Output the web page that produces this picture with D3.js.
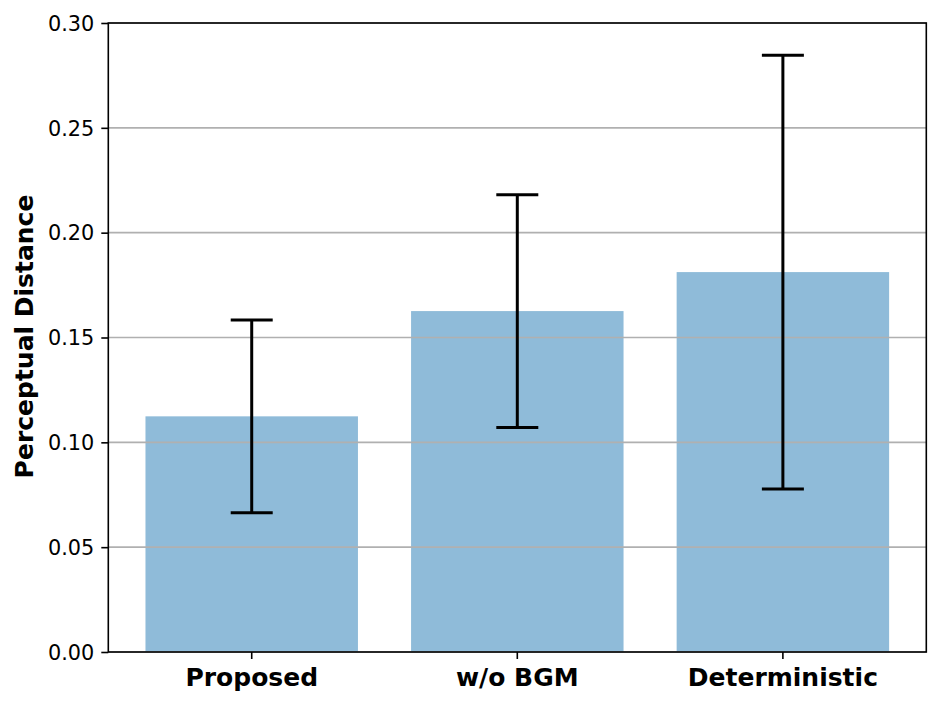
<!DOCTYPE html>
<html>
<head>
<meta charset="utf-8">
<script src="https://cdn.jsdelivr.net/npm/d3@7"></script>
<style>
  html, body { margin: 0; padding: 0; background: #ffffff; }
  svg { display: block; font-family: "DejaVu Sans", sans-serif; }
</style>
</head>
<body>
<svg id="chart" width="949" height="707"></svg>
<script>
const categories = ["Proposed", "w/o BGM", "Deterministic"];
const means = [0.1124, 0.1626, 0.1812];
const errors = [0.0460, 0.0555, 0.1034];
const yTicks = [0.00, 0.05, 0.10, 0.15, 0.20, 0.25, 0.30];
const yLabel = "Perceptual Distance";

const svg = d3.select("#chart");
const margin = { left: 108.3, right: 949 - 926.3, top: 23, bottom: 707 - 652 };
const W = 949, H = 707;
const x0 = margin.left, x1 = W - margin.right, y0 = H - margin.bottom, y1 = margin.top;

const x = d3.scaleBand().domain(categories).range([x0, x1]).paddingInner(0.2).paddingOuter(0.14);
const y = d3.scaleLinear().domain([0, 0.30]).range([y0, y1]);

// bars
svg.append("g").selectAll("rect").data(categories).join("rect")
  .attr("x", d => x(d))
  .attr("width", x.bandwidth())
  .attr("y", (d, i) => y(means[i]))
  .attr("height", (d, i) => y(0) - y(means[i]))
  .attr("fill", "#1f77b4")
  .attr("fill-opacity", 0.5);

// grid (above bars, like matplotlib)
svg.append("g").selectAll("line").data(yTicks).join("line")
  .attr("x1", x0).attr("x2", x1)
  .attr("y1", d => y(d)).attr("y2", d => y(d))
  .attr("stroke", "#b0b0b0").attr("stroke-width", 1.6);

// error bars
const eb = svg.append("g").attr("stroke", "#000").attr("stroke-width", 3);
categories.forEach((c, i) => {
  const cx = x(c) + x.bandwidth() / 2;
  const lo = y(means[i] - errors[i]), hi = y(means[i] + errors[i]);
  eb.append("line").attr("x1", cx).attr("x2", cx).attr("y1", lo).attr("y2", hi);
  eb.append("line").attr("x1", cx - 21).attr("x2", cx + 21).attr("y1", lo).attr("y2", lo);
  eb.append("line").attr("x1", cx - 21).attr("x2", cx + 21).attr("y1", hi).attr("y2", hi);
});

// axes
const yAxis = d3.axisLeft(y).tickValues(yTicks).tickFormat(d3.format(".2f")).tickSize(7).tickPadding(7);
const gy = svg.append("g").attr("transform", `translate(${x0},0)`).call(yAxis);
gy.select(".domain").remove();
gy.selectAll(".tick line").attr("stroke", "#000").attr("stroke-width", 1.6);
gy.selectAll(".tick text").attr("font-size", 20.8).attr("font-family", "DejaVu Sans").attr("fill", "#000").attr("dy", "0.35em");

const xAxis = d3.axisBottom(x).tickSize(7).tickPadding(7);
const gx = svg.append("g").attr("transform", `translate(0,${y0})`).call(xAxis);
gx.select(".domain").remove();
gx.selectAll(".tick line").attr("stroke", "#000").attr("stroke-width", 1.6);
gx.selectAll(".tick text").attr("font-size", 25).attr("font-weight", "bold").attr("font-family", "DejaVu Sans").attr("fill", "#000").attr("dy", "0.8em");

// spines
svg.append("rect").attr("x", x0).attr("y", y1).attr("width", x1 - x0).attr("height", y0 - y1)
  .attr("fill", "none").attr("stroke", "#000").attr("stroke-width", 1.6);

// y label
svg.append("text")
  .attr("transform", `translate(33,${(y0 + y1) / 2 - 1}) rotate(-90)`)
  .attr("text-anchor", "middle")
  .attr("font-size", 25).attr("font-weight", "bold").attr("fill", "#000")
  .text(yLabel);
</script>
</body>
</html>
